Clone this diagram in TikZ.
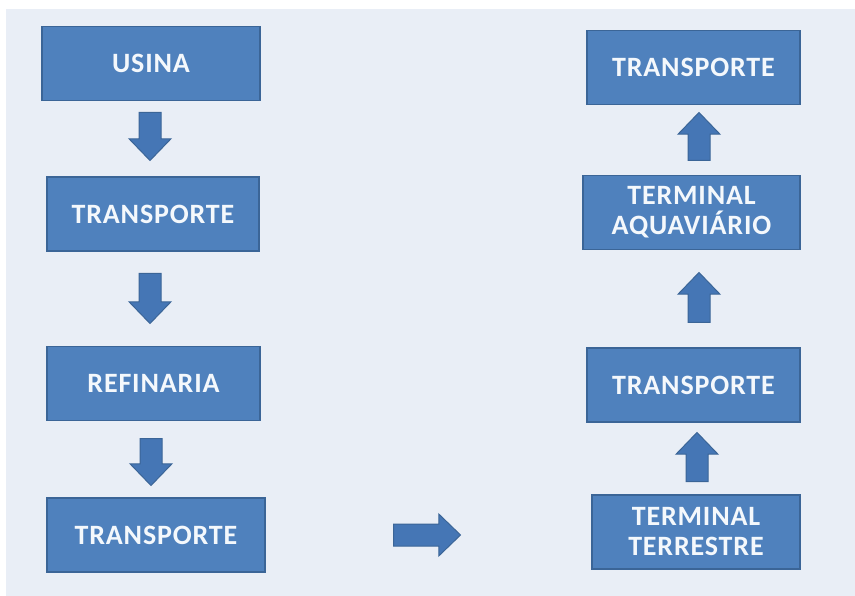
\documentclass[tikz,border=0pt]{standalone}
\usepackage{fontspec}
\setmainfont{Carlito}
\usetikzlibrary{shapes.arrows}
\definecolor{boxblue}{HTML}{4F81BD}
\definecolor{boxedge}{HTML}{3B6597}
\definecolor{arrowblue}{HTML}{4576B5}
\definecolor{pagebg}{HTML}{E9EEF6}
\definecolor{labeltext}{HTML}{F4F8FC}
\tikzset{
  stagebox/.style={draw=boxedge, line width=1.5pt, fill=boxblue,
    text=labeltext, font=\bfseries\fontsize{28}{30}\selectfont\addfontfeature{LetterSpace=3},
    align=center, inner sep=0pt, minimum height=74pt},
  blockarrow/.style={single arrow, draw=boxedge, line width=1pt, fill=arrowblue,
    minimum height=48pt, inner xsep=0pt, inner ysep=10.5pt,
    single arrow head extend=10pt, single arrow tip angle=88, anchor=tail},
}
\begin{document}
\begin{tikzpicture}[x=1pt,y=-1pt]
  % page and backdrop
  \fill[white] (0,0) rectangle (855,596);
  \fill[pagebg] (6,9) rectangle (855,596);
  \useasboundingbox (0,0) rectangle (855,596);

  % left column, top to bottom
  \node[stagebox, minimum width=218pt] (usina) at (151,63.5) {USINA};
  \node[stagebox, minimum width=212pt] (trA) at (153,214) {TRANSPORTE};
  \node[stagebox, minimum width=213pt] (refin) at (153.5,383.5) {REFINARIA};
  \node[stagebox, minimum width=218pt] (trB) at (156,535) {TRANSPORTE};

  % right column, bottom to top
  \node[stagebox, minimum width=208pt] (terr) at (696,532) {TERMINAL\\TERRESTRE};
  \node[stagebox, minimum width=213pt] (trC) at (693.5,385) {TRANSPORTE};
  \node[stagebox, minimum width=217pt] (aqua) at (691.5,212.5) {TERMINAL\\AQUAVIÁRIO};
  \node[stagebox, minimum width=213pt] (trD) at (693.5,67.5) {TRANSPORTE};

  % block arrows between the stages (placed by their tails)
  \node[blockarrow, rotate=-90] (a1) at (150,112) {};
  \node[blockarrow, rotate=-90, minimum height=50pt] (a2) at (150,273) {};
  \node[blockarrow, rotate=-90, minimum height=47pt] (a3) at (151,438) {};
  \node[blockarrow, minimum height=67pt] (a4) at (393,535) {};
  \node[blockarrow, rotate=90, minimum height=49pt] (a5) at (697,482) {};
  \node[blockarrow, rotate=90, minimum height=50pt] (a6) at (699,323) {};
  \node[blockarrow, rotate=90] (a7) at (699,161) {};
\end{tikzpicture}
\end{document}
